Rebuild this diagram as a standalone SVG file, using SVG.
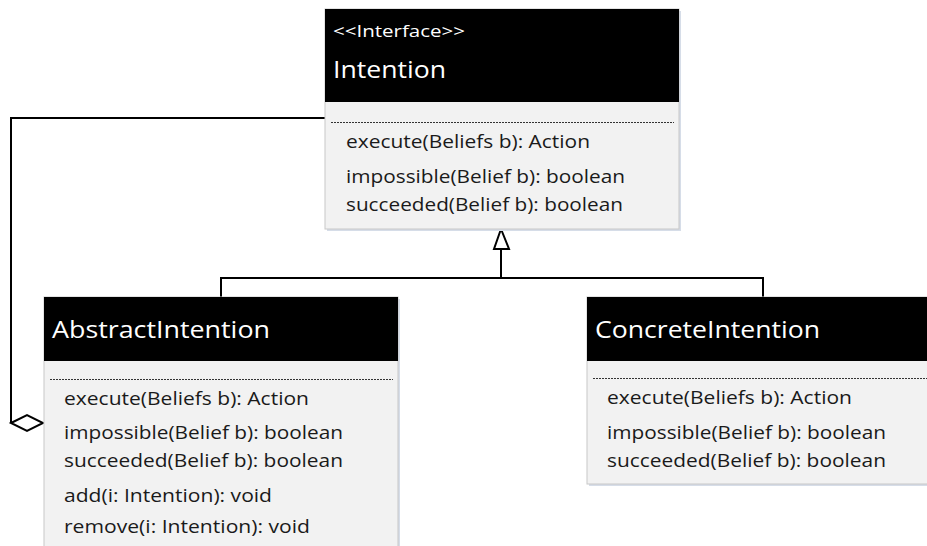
<svg xmlns="http://www.w3.org/2000/svg" width="927" height="546" viewBox="0 0 927 546">
<defs>
<style>
.hdr{fill:#000}
.body{fill:#f2f2f2;stroke:#c8c8c8;stroke-width:1}
.shadow{fill:#d6dde8}
.dots{stroke:#333;stroke-width:1;stroke-dasharray:2 1}
.ttl{font-family:"Open Sans","Noto Sans",sans-serif;font-size:24px;fill:#fff}
.st{font-family:"Open Sans","Noto Sans",sans-serif;font-size:16px;fill:#fff}
.m{font-family:"Open Sans","Noto Sans",sans-serif;font-size:19px;fill:#1a1a1a}
.ln{fill:none;stroke:#000;stroke-width:2}
</style>
</defs>
<rect width="927" height="546" fill="#fff"/>
<g id="connectors">
<polyline class="ln" points="325,118 11,118 11,423"/>
<polygon points="11,423 27,415 43,423 27,431" fill="#fff" stroke="#000" stroke-width="2"/>
<polyline class="ln" points="501,249 501,278"/>
<polyline class="ln" points="221,297 221,278 763,278 763,297"/>
<polygon points="501,229 494,249 509,249" fill="#fff" stroke="#000" stroke-width="2"/>
</g>
<g id="intention">
<rect class="shadow" x="327" y="11" width="354" height="220"/>
<rect class="body" x="325" y="9" width="354" height="220"/>
<rect class="hdr" x="325" y="9" width="354" height="93"/>
<text class="st" x="333" y="37" textLength="132" lengthAdjust="spacingAndGlyphs">&lt;&lt;Interface&gt;&gt;</text>
<text class="ttl" x="333" y="78" textLength="113" lengthAdjust="spacingAndGlyphs">Intention</text>
<line class="dots" x1="331" y1="122.5" x2="674" y2="122.5"/>
<text class="m" x="346" y="148" textLength="244" lengthAdjust="spacingAndGlyphs">execute(Beliefs b): Action</text>
<text class="m" x="346" y="183" textLength="279" lengthAdjust="spacingAndGlyphs">impossible(Belief b): boolean</text>
<text class="m" x="346" y="211" textLength="277" lengthAdjust="spacingAndGlyphs">succeeded(Belief b): boolean</text>
</g>
<g id="abstract-intention">
<rect class="shadow" x="46" y="299" width="354" height="260"/>
<rect class="body" x="44" y="297" width="354" height="260"/>
<rect class="hdr" x="44" y="297" width="354" height="64"/>
<text class="ttl" x="52" y="338" textLength="218" lengthAdjust="spacingAndGlyphs">AbstractIntention</text>
<line class="dots" x1="50" y1="379.5" x2="393" y2="379.5"/>
<text class="m" x="64" y="405" textLength="245" lengthAdjust="spacingAndGlyphs">execute(Beliefs b): Action</text>
<text class="m" x="64" y="439" textLength="279" lengthAdjust="spacingAndGlyphs">impossible(Belief b): boolean</text>
<text class="m" x="64" y="467" textLength="279" lengthAdjust="spacingAndGlyphs">succeeded(Belief b): boolean</text>
<text class="m" x="64" y="502" textLength="208" lengthAdjust="spacingAndGlyphs">add(i: Intention): void</text>
<text class="m" x="64" y="533" textLength="246" lengthAdjust="spacingAndGlyphs">remove(i: Intention): void</text>
</g>
<g id="concrete-intention">
<rect class="shadow" x="589" y="299" width="354" height="187"/>
<rect class="body" x="587" y="297" width="354" height="187"/>
<rect class="hdr" x="587" y="297" width="354" height="64"/>
<text class="ttl" x="595" y="338" textLength="225" lengthAdjust="spacingAndGlyphs">ConcreteIntention</text>
<line class="dots" x1="593" y1="378.5" x2="927" y2="378.5"/>
<text class="m" x="607" y="404" textLength="245" lengthAdjust="spacingAndGlyphs">execute(Beliefs b): Action</text>
<text class="m" x="607" y="439" textLength="279" lengthAdjust="spacingAndGlyphs">impossible(Belief b): boolean</text>
<text class="m" x="607" y="467" textLength="279" lengthAdjust="spacingAndGlyphs">succeeded(Belief b): boolean</text>
</g>
</svg>
